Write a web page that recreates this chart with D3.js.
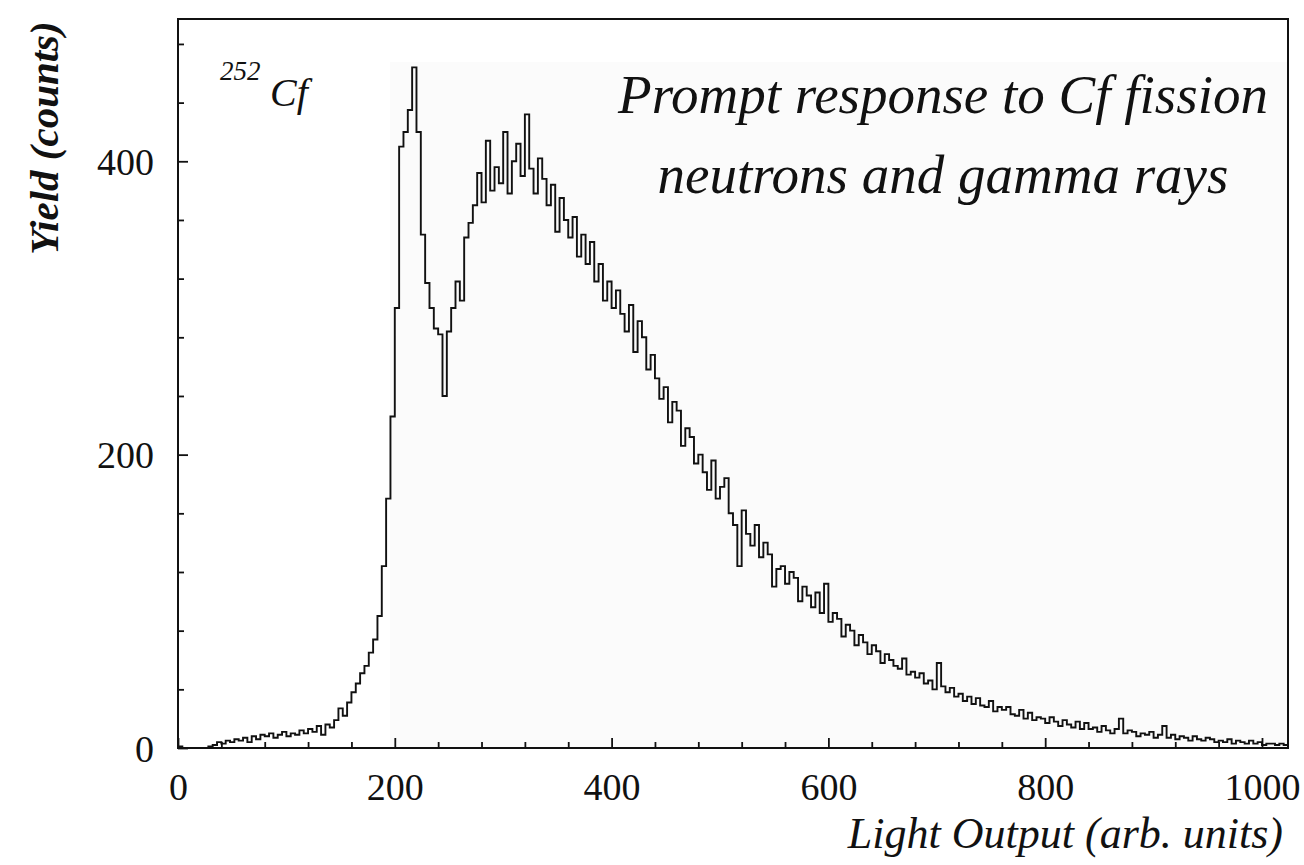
<!DOCTYPE html>
<html>
<head>
<meta charset="utf-8">
<script src="https://cdn.jsdelivr.net/npm/d3@7"></script>
<style>
  body { margin: 0; background: #fff; }
  text { font-family: "Liberation Serif", "Times New Roman", serif; fill: #111; }
</style>
</head>
<body>
<script>
// histogram of light output, 4 channels per bin, 1024 channels
var binWidth = 4;
var counts = [
    1, 0, 0, 0, 0, 0, 0, 1, 2, 4,
    3, 5, 4, 6, 5, 7, 4, 8, 6, 9,
    8, 10, 7, 9, 11, 8, 10, 9, 12, 10,
    13, 11, 15, 9, 16, 14, 19, 27, 22, 31,
    38, 44, 51, 56, 65, 74, 90, 124, 170, 226,
    300, 410, 420, 435, 464, 420, 350, 317, 300, 286,
    282, 240, 284, 300, 318, 305, 348, 358, 370, 392,
    372, 414, 380, 396, 385, 420, 378, 400, 412, 390,
    432, 395, 378, 402, 388, 370, 384, 352, 375, 360,
    348, 362, 335, 350, 330, 345, 318, 330, 305, 318,
    300, 312, 296, 284, 302, 270, 291, 280, 258, 268,
    252, 238, 246, 222, 236, 230, 206, 218, 212, 194,
    200, 188, 176, 196, 170, 178, 184, 160, 152, 124,
    162, 146, 138, 152, 130, 140, 132, 110, 122, 124,
    112, 120, 116, 100, 110, 104, 96, 106, 92, 112,
    86, 92, 88, 76, 84, 80, 70, 77, 72, 64,
    70, 66, 58, 64, 60, 56, 54, 61, 50, 52,
    48, 51, 44, 46, 40, 58, 42, 38, 41, 35,
    37, 32, 35, 30, 34, 29, 28, 32, 25, 28,
    26, 28, 23, 22, 26, 20, 24, 19, 21, 20,
    17, 21, 18, 15, 19, 16, 14, 18, 13, 17,
    13, 14, 11, 15, 12, 10, 13, 20, 10, 12,
    11, 8, 10, 9, 11, 7, 9, 15, 7, 9,
    6, 8, 7, 5, 8, 6, 5, 7, 6, 4,
    5, 4, 6, 3, 5, 4, 3, 5, 3, 4,
    2, 3, 3, 2, 3, 2
];
var xMajor = [0, 200, 400, 600, 800, 1000];
var yMajor = [0, 200, 400];
var xTitle = "Light Output (arb. units)";
var yTitle = "Yield (counts)";
var note = ["Prompt response to Cf fission", "neutrons and gamma rays"];

function init() {
    var w = 1304, h = 865;
    var left = 178, right = 1288, top = 19, bottom = 748;

    var x = d3.scaleLinear().domain([0, 1024]).range([left, right]);
    var y = d3.scaleLinear().domain([0, 497]).range([bottom, top]);

    var svg = d3.select("body").append("svg")
        .attr("width", w)
        .attr("height", h);

    // faint grey patch from the scan
    svg.append("rect")
        .attr("x", 390).attr("y", 62)
        .attr("width", right - 390).attr("height", bottom - 62)
        .attr("fill", "#fbfbfb");

    var xMinor = d3.range(0, 1024, 40).filter(function (d) { return d % 200 != 0; });
    var yMinor = d3.range(0, 497, 40).filter(function (d) { return d % 200 != 0; });

    // minor ticks
    svg.append("g")
        .attr("transform", "translate(0," + bottom + ")")
        .call(d3.axisBottom(x).tickValues(xMinor).tickSize(-6).tickFormat(""))
        .call(function (g) { g.select(".domain").remove(); });
    svg.append("g")
        .attr("transform", "translate(" + left + ",0)")
        .call(d3.axisLeft(y).tickValues(yMinor).tickSize(-6).tickFormat(""))
        .call(function (g) { g.select(".domain").remove(); });

    // major ticks + labels
    var xa = svg.append("g")
        .attr("transform", "translate(0," + bottom + ")")
        .call(d3.axisBottom(x).tickValues(xMajor).tickSize(-10).tickFormat(d3.format("d")));
    xa.select(".domain").remove();
    xa.selectAll("text")
        .attr("dy", null)
        .attr("y", 52)
        .style("font-size", "38px");

    var ya = svg.append("g")
        .attr("transform", "translate(" + left + ",0)")
        .call(d3.axisLeft(y).tickValues(yMajor).tickSize(-10).tickPadding(24).tickFormat(d3.format("d")));
    ya.select(".domain").remove();
    ya.selectAll("text")
        .attr("dy", "0.35em")
        .style("font-size", "38px");

    svg.selectAll(".tick line").attr("stroke", "#111").attr("stroke-width", 1.8);

    // frame
    svg.append("rect")
        .attr("x", left).attr("y", top)
        .attr("width", right - left).attr("height", bottom - top)
        .attr("fill", "none")
        .attr("stroke", "#111")
        .attr("stroke-width", 2);

    // histogram as step line
    var pts = counts.map(function (c, i) { return [i * binWidth, c]; });
    pts.push([counts.length * binWidth, counts[counts.length - 1]]);

    var line = d3.line()
        .x(function (d) { return x(d[0]); })
        .y(function (d) { return y(d[1]); })
        .curve(d3.curveStepAfter);

    svg.append("path")
        .datum(pts)
        .attr("d", line)
        .attr("fill", "none")
        .attr("stroke", "#111")
        .attr("stroke-width", 1.9);

    // titles
    svg.append("text")
        .attr("x", 1283).attr("y", 848)
        .attr("text-anchor", "end")
        .style("font-style", "italic")
        .style("font-size", "44px")
        .text(xTitle);

    svg.append("text")
        .attr("transform", "translate(58,138) rotate(-90)")
        .attr("text-anchor", "middle")
        .style("font-style", "italic")
        .style("font-weight", "bold")
        .style("font-size", "41px")
        .text(yTitle);

    // isotope label
    svg.append("text")
        .attr("x", 220).attr("y", 80)
        .style("font-size", "27px")
        .style("font-style", "italic")
        .text("252");
    svg.append("text")
        .attr("x", 270).attr("y", 106)
        .style("font-size", "40px")
        .style("font-style", "italic")
        .text("Cf");

    svg.selectAll(".note")
        .data(note)
        .enter()
        .append("text")
        .attr("class", "note")
        .attr("x", 943)
        .attr("y", function (d, i) { return 113 + i * 80; })
        .attr("text-anchor", "middle")
        .style("font-style", "italic")
        .style("font-size", "55px")
        .text(function (d) { return d; });
}

window.onload = init;
</script>
</body>
</html>
